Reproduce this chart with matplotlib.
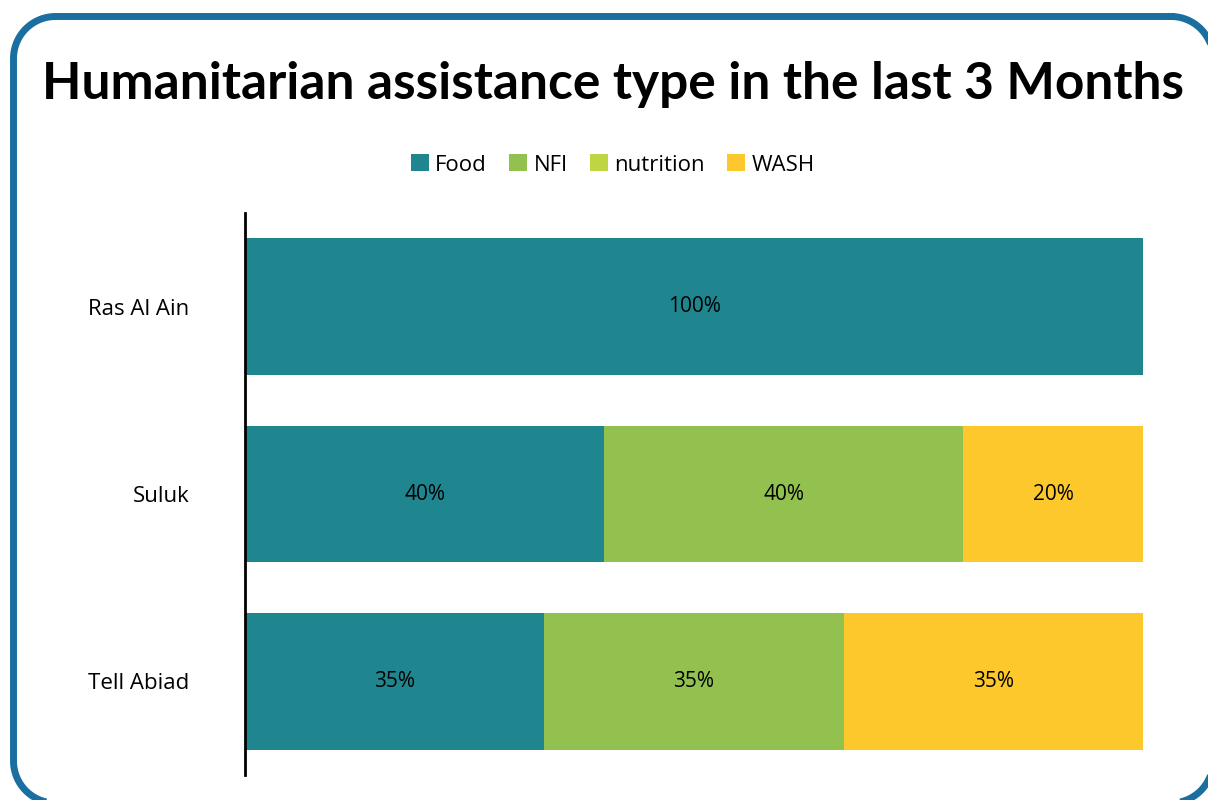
import numpy as np
import matplotlib
matplotlib.use('Agg')
from matplotlib import pyplot as plt

plt.rcParams['font.family'] = ['Open Sans', 'DejaVu Sans']

# данные
locations = ['Ras Al Ain', 'Suluk', 'Tell Abiad']
types = ['Food', 'NFI', 'nutrition', 'WASH']
food = [100, 40, 35]
nfi = [0, 40, 35]
nutrition = [0, 0, 0]
wash = [0, 20, 35]
colors = ['#1f8690', '#92c150', '#c0d543', '#fdc82b']

values = np.array([food, nfi, nutrition, wash], dtype=float)
shares = values / values.sum(axis=0)  # 100% stacked

W, H = 1208, 800
fig = plt.figure(figsize=(W / 100, H / 100), dpi=100)

# рамка со скруглёнными углами, в пикселях
bg = fig.add_axes([0, 0, 1, 1])
bg.set_xlim(0, W)
bg.set_ylim(H, 0)
bg.axis('off')
x0, y0, x1, y1, r = 13.5, 16.5, 1213, 803, 42
xs, ys = [], []
for cx, cy, a0 in ((x1 - r, y0 + r, -90), (x1 - r, y1 - r, 0),
                   (x0 + r, y1 - r, 90), (x0 + r, y0 + r, 180)):
    t = np.radians(np.linspace(a0, a0 + 90, 30))
    xs.extend(cx + r * np.cos(t))
    ys.extend(cy + r * np.sin(t))
xs.append(xs[0])
ys.append(ys[0])
bg.plot(xs, ys, color='#1a6fa0', linewidth=5.0, solid_joinstyle='round', clip_on=False)

ax = fig.add_axes([245 / W, 1 - 775 / H, (1143 - 245) / W, (775 - 213) / H])

y = np.arange(len(locations))
left = np.zeros(len(locations))
for i, name in enumerate(types):
    ax.barh(y, shares[i], left=left, height=0.73, color=colors[i], label=name)
    for j in range(len(locations)):
        if values[i, j] > 0:
            ax.text(left[j] + shares[i, j] / 2, y[j], '%d%%' % values[i, j],
                    ha='center', va='center', fontsize=15, color='black')
    left += shares[i]

ax.set_xlim(0, 1)
ax.set_ylim(len(locations) - 0.5, -0.5)
ax.set_yticks(y)
ax.set_yticklabels(locations, fontsize=16)
ax.tick_params(axis='y', length=0, pad=40)
ax.set_xticks([])
for side in ('top', 'right', 'bottom'):
    ax.spines[side].set_visible(False)
ax.spines['left'].set_linewidth(2)

fig.text(613 / W, 1 - 84 / H, 'Humanitarian assistance type in the last 3 Months',
         ha='center', va='center', fontsize=37, fontweight='bold',
         family=['Lato', 'DejaVu Sans'])

fig.legend(loc='center', bbox_to_anchor=(613 / W, 1 - 165 / H), ncol=4,
           frameon=False, fontsize=16, handlelength=0.8, handleheight=0.8,
           handletextpad=0.3, columnspacing=1.0)

fig.savefig('out.png', dpi=100)
